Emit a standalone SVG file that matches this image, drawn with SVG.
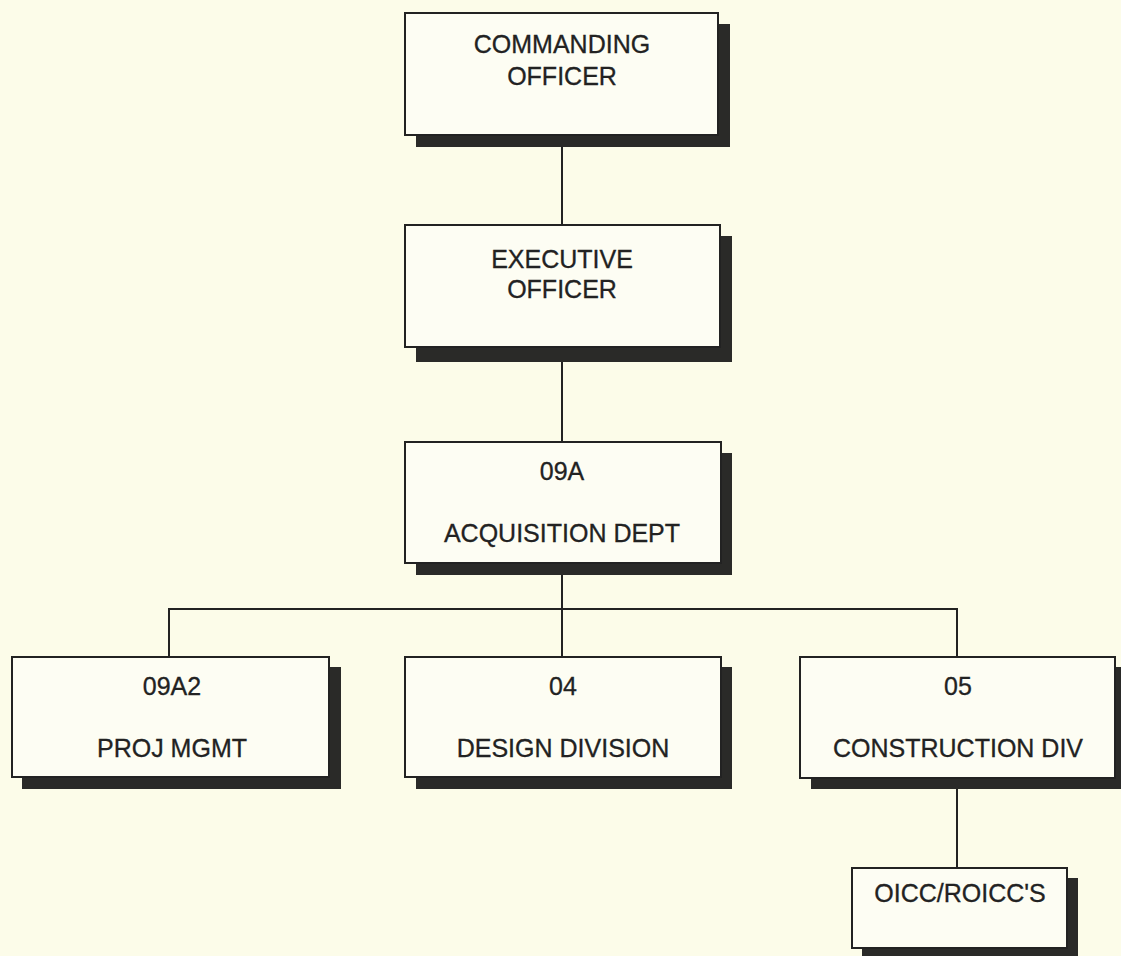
<svg xmlns="http://www.w3.org/2000/svg" width="1121" height="956" viewBox="0 0 1121 956">
<style>
.bg{fill:#fcfce9}
.box{fill:#fdfdf3;stroke:#222;stroke-width:2}
.sh{fill:#2a2a28}
.t{font-family:"Liberation Sans",Arial,sans-serif;font-size:25px;fill:#222;stroke:#222;stroke-width:0.3;text-anchor:middle}
.c{fill:none;stroke:#222;stroke-width:2}
</style>
<rect class="bg" x="0" y="0" width="1121" height="956"/>
<g id="connectors">
<path class="c" d="M562,146 V225"/>
<path class="c" d="M562,362 V442"/>
<path class="c" d="M562,575 V657"/>
<path class="c" d="M169,657 V609 H957 V657"/>
<path class="c" d="M957,789 V868"/>
</g>
<g id="commanding-officer">
<rect class="sh" x="416" y="24" width="314" height="123"/>
<rect class="box" x="405" y="13" width="313" height="122"/>
<text class="t" x="562" y="53">COMMANDING</text>
<text class="t" x="562" y="85">OFFICER</text>
</g>
<g id="executive-officer">
<rect class="sh" x="416" y="236" width="316" height="126"/>
<rect class="box" x="405" y="225" width="315" height="122"/>
<text class="t" x="562" y="268">EXECUTIVE</text>
<text class="t" x="562" y="298">OFFICER</text>
</g>
<g id="acquisition-dept">
<rect class="sh" x="416" y="453" width="316" height="122"/>
<rect class="box" x="405" y="442" width="316" height="121"/>
<text class="t" x="562" y="480">09A</text>
<text class="t" x="562" y="542">ACQUISITION DEPT</text>
</g>
<g id="proj-mgmt">
<rect class="sh" x="22" y="667" width="319" height="122"/>
<rect class="box" x="12" y="657" width="317" height="120"/>
<text class="t" x="172" y="695">09A2</text>
<text class="t" x="172" y="757">PROJ MGMT</text>
</g>
<g id="design-division">
<rect class="sh" x="416" y="667" width="316" height="122"/>
<rect class="box" x="405" y="657" width="316" height="120"/>
<text class="t" x="563" y="695">04</text>
<text class="t" x="563" y="757">DESIGN DIVISION</text>
</g>
<g id="construction-div">
<rect class="sh" x="811" y="667" width="312" height="122"/>
<rect class="box" x="800" y="657" width="315" height="121"/>
<text class="t" x="958" y="695">05</text>
<text class="t" x="958" y="757">CONSTRUCTION DIV</text>
</g>
<g id="oicc-roicc">
<rect class="sh" x="862" y="878" width="216" height="80"/>
<rect class="box" x="852" y="868" width="215" height="80"/>
<text class="t" x="960" y="902">OICC/ROICC'S</text>
</g>
</svg>
